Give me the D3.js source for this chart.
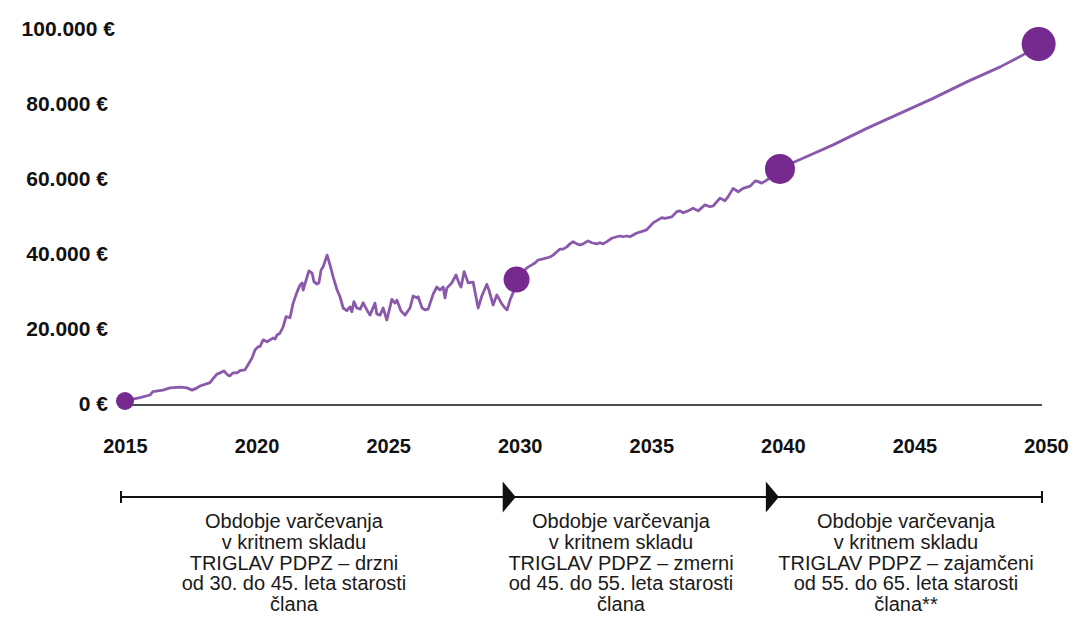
<!DOCTYPE html>
<html>
<head>
<meta charset="utf-8">
<script src="https://cdn.jsdelivr.net/npm/d3@7"></script>
<style>
  html, body { margin: 0; padding: 0; background: #ffffff; }
  svg { display: block; }
</style>
</head>
<body>
<svg id="chart" width="1091" height="617"></svg>
<script>
// ---------------- DATA ----------------
const years = [
  2015.00, 2015.30, 2015.57, 2015.95, 2016.06, 2016.44, 2016.71, 2017.09, 2017.36, 2017.55,
  2017.74, 2017.85, 2018.23, 2018.34, 2018.50, 2018.61, 2018.76, 2018.91, 2018.99, 2019.10,
  2019.26, 2019.37, 2019.56, 2019.67, 2019.83, 2019.94, 2020.06, 2020.13, 2020.25, 2020.40,
  2020.51, 2020.63, 2020.70, 2020.78, 2020.89, 2021.01, 2021.12, 2021.27, 2021.39, 2021.54,
  2021.65, 2021.73, 2021.77, 2021.92, 2021.99, 2022.11, 2022.18, 2022.30, 2022.37, 2022.45,
  2022.53, 2022.68, 2022.79, 2022.91, 2023.06, 2023.17, 2023.29, 2023.43, 2023.55, 2023.62,
  2023.70, 2023.81, 2023.94, 2024.05, 2024.19, 2024.31, 2024.50, 2024.57, 2024.69, 2024.81,
  2024.95, 2025.14, 2025.26, 2025.33, 2025.49, 2025.64, 2025.83, 2025.95, 2026.09, 2026.14,
  2026.29, 2026.40, 2026.52, 2026.71, 2026.85, 2026.97, 2027.09, 2027.16, 2027.23, 2027.42,
  2027.58, 2027.69, 2027.77, 2027.89, 2028.04, 2028.23, 2028.42, 2028.56, 2028.75, 2028.83,
  2028.99, 2029.13, 2029.32, 2029.44, 2029.52, 2029.63, 2029.75, 2029.88, 2030.27, 2030.46,
  2030.58, 2030.70, 2030.89, 2031.15, 2031.27, 2031.41, 2031.53, 2031.65, 2031.79, 2031.91,
  2032.03, 2032.17, 2032.29, 2032.41, 2032.60, 2032.74, 2032.93, 2033.05, 2033.17, 2033.31,
  2033.50, 2033.69, 2033.81, 2033.93, 2034.07, 2034.19, 2034.45, 2034.69, 2034.83, 2035.07,
  2035.40, 2035.52, 2035.78, 2035.97, 2036.09, 2036.21, 2036.40, 2036.59, 2036.78, 2037.04,
  2037.23, 2037.35, 2037.61, 2037.80, 2037.92, 2038.11, 2038.30, 2038.49, 2038.76, 2038.95,
  2039.06, 2039.20, 2039.39, 2039.89, 2040.46, 2041.04, 2041.91, 2043.19, 2044.45, 2045.71,
  2046.99, 2048.26, 2049.13, 2049.72
];
const values = [
    800,  1300,  1700,  2400,  3300,  3700,  4300,  4500,  4300,  3700,
   4300,  4800,  5700,  6700,  8000,  8300,  8800,  7700,  7500,  8300,
   8300,  8900,  9100, 10400, 12300, 14400, 15300, 15300, 17100, 16600,
  17100, 17600, 17300, 18400, 18900, 20600, 23300, 23000, 26900, 29900,
  31700, 32300, 30400, 33900, 35500, 34900, 32600, 32000, 32300, 35700,
  36600, 39700, 37100, 33900, 30400, 28600, 25600, 24900, 25900, 24600,
  27300, 25600, 25300, 27000, 25100, 23700, 26900, 24000, 23700, 25600,
  22400, 27900, 26900, 27700, 24800, 23700, 25600, 28800, 28300, 28600,
  25600, 25100, 25300, 29300, 31200, 30400, 31200, 28300, 30900, 32300,
  34400, 32300, 31200, 35300, 32300, 32500, 25600, 28800, 31900, 30400,
  26400, 29100, 26700, 25600, 25100, 27700, 29700, 33200, 36300, 37100,
  37600, 38400, 38700, 39200, 39700, 40600, 41300, 41300, 41900, 42700,
  43300, 42700, 42400, 42700, 43500, 43000, 42700, 43000, 42700, 43300,
  44200, 44600, 44800, 44600, 44800, 44600, 45600, 46100, 46500, 48300,
  49700, 49500, 49900, 51300, 51500, 51000, 51500, 52200, 51500, 53100,
  52600, 52800, 54900, 54200, 55300, 57500, 56600, 57500, 58100, 59500,
  59300, 58900, 59700, 62700, 64600, 66400, 69100, 73500, 77500, 81500,
  85900, 89900, 93100, 96000
];
const markerYears = [2015.00, 2029.88, 2039.89, 2049.72];

const xTicks = [2015, 2020, 2025, 2030, 2035, 2040, 2045, 2050];
const yTicks = [0, 20000, 40000, 60000, 80000, 100000];

const periodBounds = [2015, 2030, 2040, 2050];
const periodTexts = [
  ["Obdobje varčevanja", "v kritnem skladu", "TRIGLAV PDPZ – drzni", "od 30. do 45. leta starosti", "člana"],
  ["Obdobje varčevanja", "v kritnem skladu", "TRIGLAV PDPZ – zmerni", "od 45. do 55. leta starosti", "člana"],
  ["Obdobje varčevanja", "v kritnem skladu", "TRIGLAV PDPZ – zajamčeni", "od 55. do 65. leta starosti", "člana**"]
];

// ---------------- LAYOUT ----------------
const svg = d3.select("#chart");
const FONT = "'Liberation Sans', Arial, sans-serif";
const lineColor = "#8b59ab";
const dotColor = "#76298e";
const markerRadii = [9, 13, 15, 17];
const textCenters = [294, 621, 906];
const timelineY = 497;

const x = d3.scaleLinear().domain([2015, 2050]).range([125, 1046]);
const y = d3.scaleLinear().domain([0, 100000]).range([404, 29]);

const locale = d3.formatLocale({ decimal: ",", thousands: ".", grouping: [3], currency: ["", " €"] });
const fmt = locale.format(",");

const series = years.map((yr, i) => ({ year: yr, value: values[i] }));

// baseline
svg.append("line")
  .attr("x1", x(2015)).attr("x2", x(2050) - 4)
  .attr("y1", y(0) + 1).attr("y2", y(0) + 1)
  .attr("stroke", "#111").attr("stroke-width", 1.5);

// y axis
const yAxis = svg.append("g")
  .attr("transform", "translate(108,0)")
  .call(d3.axisLeft(y).tickValues(yTicks).tickSize(0).tickPadding(0).tickFormat(d => fmt(d) + " €"));
yAxis.select(".domain").remove();
yAxis.selectAll("text")
  .attr("font-family", FONT).attr("font-weight", "bold").attr("font-size", 21)
  .attr("fill", "#111")
  .attr("dx", d => d === 100000 ? 7 : 0);

// x axis
const xAxis = svg.append("g")
  .attr("transform", `translate(0,${y(0)})`)
  .call(d3.axisBottom(x).tickValues(xTicks).tickSize(0).tickPadding(35).tickFormat(d => String(d)));
xAxis.select(".domain").remove();
xAxis.selectAll("text")
  .attr("font-family", FONT).attr("font-weight", "bold").attr("font-size", 20)
  .attr("fill", "#111");

// line
const line = d3.line().x(d => x(d.year)).y(d => y(d.value)).curve(d3.curveLinear);
svg.append("path")
  .datum(series)
  .attr("d", line)
  .attr("fill", "none")
  .attr("stroke", lineColor)
  .attr("stroke-width", 2.8)
  .attr("stroke-linejoin", "round")
  .attr("stroke-linecap", "round");

// markers
const markers = markerYears.map((my, i) => {
  const p = series.reduce((a, b) => Math.abs(b.year - my) < Math.abs(a.year - my) ? b : a);
  return { year: p.year, value: p.value, r: markerRadii[i] };
});
svg.selectAll("circle.marker")
  .data(markers).enter().append("circle")
  .attr("class", "marker")
  .attr("cx", d => x(d.year))
  .attr("cy", d => y(d.value))
  .attr("r", d => d.r)
  .attr("fill", dotColor);

// timeline
const tx = v => x(v) - 4;
const tl = svg.append("g");
tl.append("line")
  .attr("x1", tx(periodBounds[0])).attr("x2", tx(periodBounds[periodBounds.length - 1]))
  .attr("y1", timelineY).attr("y2", timelineY)
  .attr("stroke", "#111").attr("stroke-width", 2);
[periodBounds[0], periodBounds[periodBounds.length - 1]].forEach(b => {
  tl.append("line")
    .attr("x1", tx(b)).attr("x2", tx(b))
    .attr("y1", timelineY - 6).attr("y2", timelineY + 6)
    .attr("stroke", "#111").attr("stroke-width", 2);
});
periodBounds.slice(1, -1).forEach(b => {
  const tip = tx(b);
  tl.append("path")
    .attr("d", `M${tip - 13},${timelineY - 15.5} L${tip},${timelineY} L${tip - 13},${timelineY + 15.5} Z`)
    .attr("fill", "#111");
});
periodTexts.forEach((lines, i) => {
  const t = tl.append("text")
    .attr("font-family", FONT).attr("font-size", 20).attr("fill", "#1a1a1a")
    .attr("text-anchor", "middle");
  lines.forEach((ln, j) => {
    t.append("tspan").attr("x", textCenters[i]).attr("y", 528 + j * 20.8).text(ln);
  });
});
</script>
</body>
</html>
